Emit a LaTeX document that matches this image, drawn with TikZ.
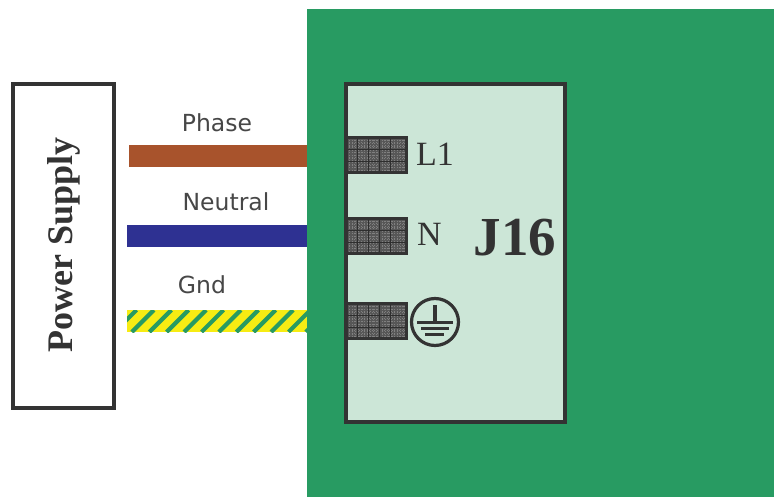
\documentclass[tikz,border=0pt]{standalone}
\usepackage{fontspec}
\setmainfont{Liberation Serif}
\newfontfamily\labelfont{DejaVu Sans}
\definecolor{board}{HTML}{289B62}
\definecolor{panel}{HTML}{CCE6D7}
\definecolor{edge}{HTML}{333333}
\definecolor{phasec}{HTML}{A8532C}
\definecolor{neutralc}{HTML}{2E3192}
\definecolor{gndy}{HTML}{F7EC13}
\tikzset{
  x=1pt,y=-1pt,
  box/.style={draw=edge,line width=3.05pt,minimum width=#1,inner sep=0pt,outer sep=0pt,anchor=north west},
  wirelabel/.style={font=\labelfont\fontsize{23.5}{26}\selectfont,text=edge!90,inner sep=0pt},
  pinlabel/.style={font=\fontsize{34}{38}\selectfont,text=edge,inner sep=0pt},
  termbox/.style={fill=black!66,minimum width=60pt,minimum height=35pt,inner sep=0pt,outer sep=0pt,anchor=north west},
  termgrid/.style={draw=black!82,line width=1.1pt},
  termfine/.style={draw=black!50,line width=0.5pt,dotted},
  wire/.style={line width=22pt,line cap=butt},
  earthbar/.style={edge,line width=3.2pt}
}
\newcommand{\termgridlines}[1]{%
  \foreach \g in {3,6,...,57}{\draw[termfine] ([xshift=\g pt]#1.north west) -- ([xshift=\g pt]#1.south west);}
  \foreach \g in {3,6,...,33}{\draw[termfine] ([yshift=-\g pt]#1.north west) -- ([yshift=-\g pt]#1.north east);}
  \foreach \g in {11,22,33,44}{\draw[termgrid] ([xshift=\g pt]#1.north west) -- ([xshift=\g pt]#1.south west);}
  \foreach \g in {12,24}{\draw[termgrid] ([yshift=-\g pt]#1.north west) -- ([yshift=-\g pt]#1.north east);}
  \draw[edge,line width=2.8pt] (#1.north west) rectangle (#1.south east);
}
\begin{document}
\begin{tikzpicture}
\useasboundingbox (0,0) rectangle (774,497);
\fill[white] (0,0) rectangle (774,497);
\node[fill=board,minimum width=467pt,minimum height=488pt,inner sep=0pt,outer sep=0pt,anchor=north west] (board) at (307,9) {};
\node[box=219pt,fill=panel,minimum height=338pt] (j16) at (346,84) {};
\node[box=101pt,minimum height=324pt] (psu) at (13,84) {};
\node[rotate=90,font=\bfseries\fontsize{36}{40}\selectfont,text=edge,inner sep=0pt] (psutext) at (64,245) {Power Supply};
\node[font=\bfseries\fontsize{55}{60}\selectfont,text=edge,inner sep=0pt] (j16text) at (515,238) {J16};

\node[termbox] (t1) at (346.5,137.5) {};
\node[termbox] (t2) at (346.5,218.5) {};
\node[termbox] (t3) at (346.5,303.5) {};
\termgridlines{t1}\termgridlines{t2}\termgridlines{t3}

\node[pinlabel,anchor=west] (l1) at (416,154.5) {L1};
\node[pinlabel,anchor=west] (n) at (417,234) {N};

\node[circle,draw=edge,line width=3.2pt,minimum size=47pt,inner sep=0pt,outer sep=0pt] (earth) at (435,322) {};
\draw[earthbar] (435,305) -- (435,322);
\draw[earthbar] (417,322.5) -- (453,322.5);
\draw[earthbar] (421,328.5) -- (449,328.5);
\draw[earthbar] (425,334.5) -- (444,334.5);

\coordinate (a1) at (129,156);
\coordinate (a2) at (127,236);
\coordinate (a3) at (127,321);
\draw[wire,phasec] (a1) -- (a1-|board.west);
\draw[wire,neutralc] (a2) -- (a2-|board.west);
\draw[wire,gndy] (a3) -- (a3-|board.west);
\begin{scope}
\clip (127,310) rectangle (307,332);
\foreach \s in {0,...,11}{
  \draw[board,line width=4.2pt] ({114.5+\s*17.4},332) -- ({136.5+\s*17.4},310);
}
\end{scope}

\node[wirelabel] (ph) at (217,123) {Phase};
\node[wirelabel] (ne) at (226,202) {Neutral};
\node[wirelabel] (gn) at (202,285) {Gnd};
\end{tikzpicture}
\end{document}
